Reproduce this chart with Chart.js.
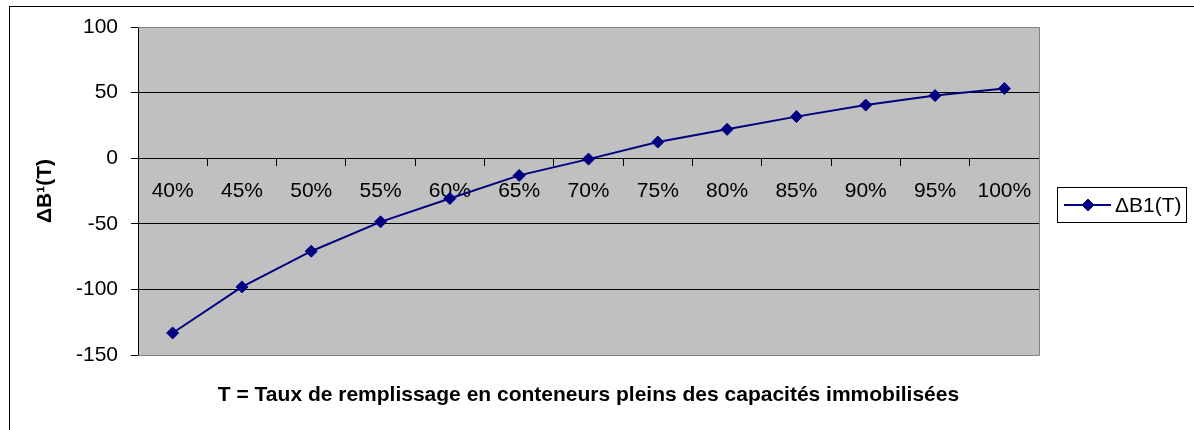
<!DOCTYPE html>
<html>
<head>
<meta charset="utf-8">
<style>
  html, body { margin: 0; padding: 0; background: #fff; }
  #wrap { width: 1194px; height: 430px; }
</style>
<script src="https://cdn.jsdelivr.net/npm/chart.js@4/dist/chart.umd.min.js"></script>
</head>
<body>
<div id="wrap"><canvas id="chart" width="1194" height="430"></canvas></div>
<script>
// Fill rate categories (x axis)
const categories = ['40%', '45%', '50%', '55%', '60%', '65%', '70%', '75%', '80%', '85%', '90%', '95%', '100%'];
// ΔB1(T) values per fill rate
const deltaB1 = [-133.2, -98.1, -70.9, -48.5, -30.7, -13.1, -0.7, 12.3, 22.0, 31.7, 40.5, 47.7, 53.1];
// Value axis ticks
const yTickValues = [-150, -100, -50, 0, 50, 100];

const seriesLabel = 'ΔB1(T)';
const yTitle = 'ΔB¹(T)';
const xTitle = 'T = Taux de remplissage en conteneurs pleins des capacités immobilisées';

const FONT = '"Liberation Sans", Arial, sans-serif';
const NAVY = '#000080';
const PLOT_BG = '#C0C0C0';
const PLOT_EDGE = '#808080';

const yMin = Math.min(...yTickValues);
const yMax = Math.max(...yTickValues);

// Page frame, plot background, axis title under the plot and a boxed legend
const decorations = {
  id: 'decorations',
  beforeDraw(chart) {
    const { ctx, chartArea: a } = chart;
    ctx.save();
    ctx.fillStyle = '#fff';
    ctx.fillRect(0, 0, chart.width, chart.height);
    ctx.strokeStyle = '#000';
    ctx.lineWidth = 1;
    ctx.strokeRect(9.5, 6.5, chart.width + 20, chart.height + 20);
    ctx.fillStyle = PLOT_BG;
    ctx.fillRect(a.left, a.top, a.right - a.left, a.bottom - a.top);
    ctx.restore();
  },
  beforeDatasetsDraw(chart) {
    const { ctx, chartArea: a } = chart;
    ctx.save();
    ctx.strokeStyle = PLOT_EDGE;
    ctx.lineWidth = 1;
    ctx.beginPath();
    ctx.moveTo(a.left, a.top + 0.5);
    ctx.lineTo(a.right + 0.5, a.top + 0.5);
    ctx.lineTo(a.right + 0.5, a.bottom + 0.5);
    ctx.lineTo(a.left, a.bottom + 0.5);
    ctx.stroke();
    ctx.restore();
  },
  afterDraw(chart) {
    const { ctx, chartArea: a } = chart;
    ctx.save();
    // x axis title
    ctx.fillStyle = '#000';
    ctx.font = 'bold 21px ' + FONT;
    ctx.textAlign = 'center';
    ctx.textBaseline = 'middle';
    ctx.fillText(xTitle, (a.left + a.right) / 2, 395);

    // legend
    const ds = chart.data.datasets[0];
    const bx = 1057.5, by = 187.5, bw = 129, bh = 35;
    ctx.strokeStyle = '#000';
    ctx.lineWidth = 1;
    ctx.strokeRect(bx, by, bw, bh);
    const cy = by + bh / 2;
    ctx.strokeStyle = ds.borderColor;
    ctx.lineWidth = ds.borderWidth;
    ctx.beginPath();
    ctx.moveTo(1064, cy);
    ctx.lineTo(1111, cy);
    ctx.stroke();
    ctx.fillStyle = ds.pointBackgroundColor;
    ctx.strokeStyle = ds.pointBorderColor;
    ctx.lineWidth = ds.pointBorderWidth;
    Chart.helpers.drawPoint(ctx, { pointStyle: ds.pointStyle, radius: ds.pointRadius, rotation: 0, borderWidth: ds.pointBorderWidth }, 1088, cy);
    ctx.fillStyle = '#000';
    ctx.font = '21px ' + FONT;
    ctx.textAlign = 'left';
    ctx.textBaseline = 'middle';
    ctx.fillText(ds.label, 1115, cy + 1);
    ctx.restore();
  }
};

new Chart(document.getElementById('chart'), {
  type: 'line',
  data: {
    labels: categories,
    datasets: [{
      label: seriesLabel,
      data: deltaB1,
      borderColor: NAVY,
      backgroundColor: NAVY,
      borderWidth: 2,
      tension: 0,
      fill: false,
      pointStyle: 'rectRot',
      pointRadius: 6,
      pointHoverRadius: 6,
      pointBackgroundColor: NAVY,
      pointBorderColor: NAVY,
      pointBorderWidth: 1
    }]
  },
  options: {
    responsive: false,
    animation: false,
    events: [],
    layout: { padding: { left: 0, top: 27, right: 155, bottom: 75 } },
    plugins: {
      legend: { display: false },
      title: { display: false },
      tooltip: { enabled: false }
    },
    scales: {
      x: {
        type: 'category',
        position: { y: 0 },
        offset: true,
        grid: {
          offset: true,
          drawOnChartArea: false,
          drawTicks: true,
          tickLength: 7,
          color: '#000',
          tickColor: '#000'
        },
        border: { display: true, color: '#000', width: 1 },
        ticks: {
          autoSkip: false,
          maxRotation: 0,
          minRotation: 0,
          padding: 13,
          color: '#000',
          font: { family: FONT, size: 21 }
        }
      },
      y: {
        min: yMin,
        max: yMax,
        afterFit(scale) { scale.width = 138; },
        afterBuildTicks(scale) { scale.ticks = yTickValues.map(v => ({ value: v })); },
        grid: {
          drawTicks: true,
          tickLength: 7,
          color: ctx => (ctx.tick && (ctx.tick.value === yMax || ctx.tick.value === yMin)) ? PLOT_EDGE : '#000',
          tickColor: '#000'
        },
        border: { display: true, color: '#000', width: 1 },
        ticks: {
          padding: 13,
          color: '#000',
          font: { family: FONT, size: 21 }
        },
        title: {
          display: true,
          text: yTitle,
          color: '#000',
          font: { family: FONT, size: 21, weight: 'bold' },
          padding: { top: 33, bottom: 0 }
        }
      }
    }
  },
  plugins: [decorations]
});
</script>
</body>
</html>
